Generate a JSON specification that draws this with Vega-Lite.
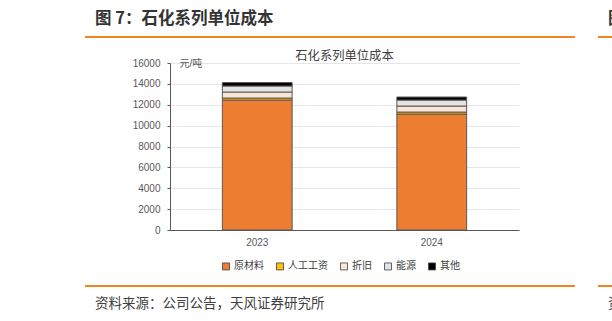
{
  "$schema": "https://vega.github.io/schema/vega-lite/v6.json",
  "padding": {"left": 85, "top": 10, "right": 0, "bottom": 0},
  "background": "white",
  "config": {"font": "Liberation Sans, Noto Sans CJK SC", "concat": {"spacing": 7}},
  "datasets": {
    "cost": [
      {"year": "2023", "item": "原材料", "value": 12450},
      {"year": "2023", "item": "人工工资", "value": 195},
      {"year": "2023", "item": "折旧", "value": 575},
      {"year": "2023", "item": "能源", "value": 575},
      {"year": "2023", "item": "其他", "value": 330},
      {"year": "2024", "item": "原材料", "value": 11110},
      {"year": "2024", "item": "人工工资", "value": 190},
      {"year": "2024", "item": "折旧", "value": 575},
      {"year": "2024", "item": "能源", "value": 575},
      {"year": "2024", "item": "其他", "value": 290}
    ],
    "items": [
      {"item": "原材料", "rank": 1},
      {"item": "人工工资", "rank": 2},
      {"item": "折旧", "rank": 3},
      {"item": "能源", "rank": 4},
      {"item": "其他", "rank": 5}
    ],
    "blank": [{"k": 1}]
  },
  "vconcat": [
    {
      "spacing": 23,
      "hconcat": [
        {
          "width": 490,
          "height": 2,
          "data": {"name": "blank"},
          "view": {"fill": "#F5841F", "stroke": null},
          "title": {"text": "图 7：石化系列单位成本", "anchor": "start", "dx": 10, "offset": 4, "fontSize": 16.5, "fontWeight": "bold", "color": "#333333", "font": "Noto Sans CJK SC"},
          "mark": {"type": "text"},
          "encoding": {"text": {"value": ""}}
        },
        {
          "width": 60,
          "height": 2,
          "data": {"name": "blank"},
          "view": {"fill": "#F5841F", "stroke": null},
          "title": {"text": "图 8：", "anchor": "start", "dx": 10, "offset": 4, "fontSize": 16.5, "fontWeight": "bold", "color": "#333333", "font": "Noto Sans CJK SC"},
          "mark": {"type": "text"},
          "encoding": {"text": {"value": ""}}
        }
      ]
    },
    {
      "spacing": 0,
      "hconcat": [
        {
          "width": 47,
          "height": 210,
          "data": {"name": "blank"},
          "view": {"stroke": null},
          "mark": {"type": "text"},
          "encoding": {"text": {"value": ""}}
        },
        {
          "width": 349,
          "height": 167,
          "data": {"name": "cost"},
          "transform": [
            {"lookup": "item", "from": {"data": {"name": "items"}, "key": "item", "fields": ["rank"]}}
          ],
          "view": {"stroke": null},
          "title": {"text": "石化系列单位成本", "fontSize": 12.3, "fontWeight": "normal", "color": "#404040", "offset": -4, "font": "Noto Sans CJK SC"},
          "mark": {"type": "bar", "stroke": "#595959", "strokeWidth": 1},
          "encoding": {
            "x": {
              "field": "year", "type": "nominal",
              "scale": {"paddingInner": 0.6, "paddingOuter": 0.3},
              "axis": {"title": null, "labelAngle": 0, "ticks": false, "domainColor": "#595959", "labelColor": "#595959", "labelFontSize": 10, "labelPadding": 7}
            },
            "y": {
              "field": "value", "type": "quantitative", "stack": "zero",
              "scale": {"domain": [0, 16000], "nice": false},
              "axis": {
                "values": [0, 2000, 4000, 6000, 8000, 10000, 12000, 14000, 16000],
                "format": "d",
                "title": "元/吨", "titleAngle": 0, "titleX": 9, "titleY": 0, "titleAlign": "left", "titleBaseline": "middle",
                "titleFontSize": 10, "titleFontWeight": "normal", "titleColor": "#595959",
                "domainColor": "#595959", "tickColor": "#595959", "tickSize": 3,
                "labelColor": "#595959", "labelFontSize": 10, "labelPadding": 7,
                "gridColor": "#E6E6E6"
              }
            },
            "order": {"field": "rank", "type": "quantitative", "sort": "ascending"},
            "color": {
              "field": "item", "type": "nominal",
              "scale": {"domain": ["原材料", "人工工资", "折旧", "能源", "其他"], "range": ["#ED7D31", "#FFC000", "#FBE5D6", "#E4E4E4", "#000000"]},
              "legend": {
                "title": null, "orient": "none", "direction": "horizontal", "columns": 5,
                "legendX": 136, "legendY": 225,
                "symbolType": "square", "symbolSize": 49, "symbolStrokeColor": "#404040", "symbolStrokeWidth": 0.8,
                "labelFontSize": 10, "labelColor": "#404040", "labelOffset": 3, "columnPadding": 10,
                "labelFont": "Noto Sans CJK SC"
              }
            }
          }
        }
      ]
    },
    {
      "spacing": 23,
      "hconcat": [
        {
          "width": 490,
          "height": 2,
          "data": {"name": "blank"},
          "view": {"fill": "#F5841F", "stroke": null},
          "title": {"text": "资料来源：公司公告，天风证券研究所", "orient": "bottom", "anchor": "start", "dx": 10, "offset": 6, "fontSize": 13.5, "fontWeight": "normal", "color": "#404040", "font": "Noto Sans CJK SC"},
          "mark": {"type": "text"},
          "encoding": {"text": {"value": ""}}
        },
        {
          "width": 60,
          "height": 2,
          "data": {"name": "blank"},
          "view": {"fill": "#F5841F", "stroke": null},
          "title": {"text": "资料来源：", "orient": "bottom", "anchor": "start", "dx": 10, "offset": 6, "fontSize": 13.5, "fontWeight": "normal", "color": "#404040", "font": "Noto Sans CJK SC"},
          "mark": {"type": "text"},
          "encoding": {"text": {"value": ""}}
        }
      ]
    }
  ]
}
